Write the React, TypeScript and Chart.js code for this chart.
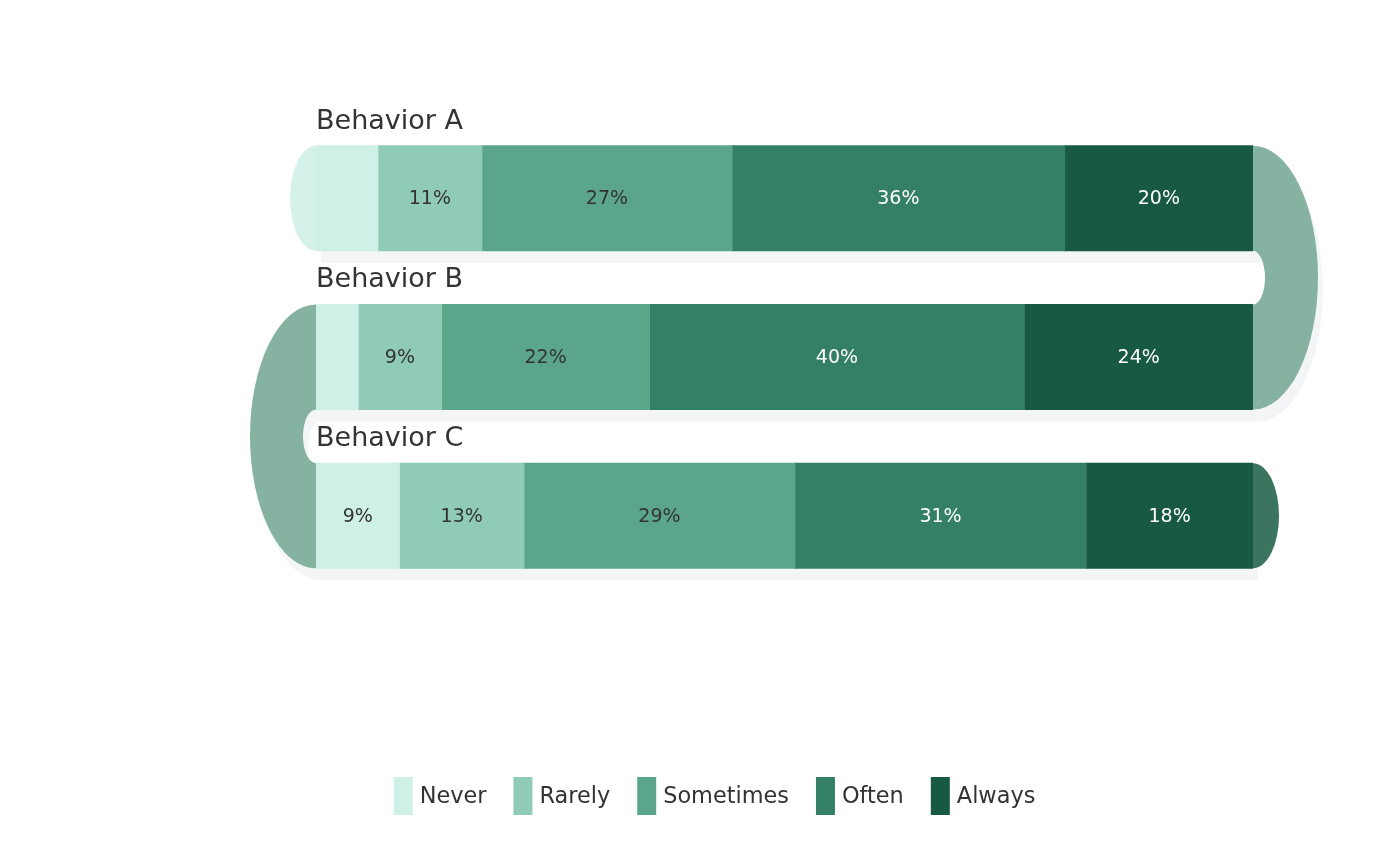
import { useEffect, useRef } from 'react'
import { Chart } from 'chart.js/auto'

const behaviors = ['Behavior A', 'Behavior B', 'Behavior C']
const levels = ['Never', 'Rarely', 'Sometimes', 'Often', 'Always']

// share of answers per behavior, in percent
const never = [6.6, 4.5, 8.9]
const rarely = [11.1, 8.9, 13.3]
const sometimes = [26.7, 22.2, 28.9]
const often = [35.5, 40.0, 31.1]
const always = [20.1, 24.4, 17.8]

const colors = ['#cff0e6', '#8fcbb6', '#5ba68b', '#348067', '#175943']
const textColors = ['#333333', '#333333', '#333333', '#ffffff', '#ffffff']

const FONT = '"DejaVu Sans", "Noto Sans", sans-serif'
const SHADOW = '#f4f5f6'

// draws the snake connectors, caps and shadows behind the bars
const snakePlugin = {
  id: 'snake',
  beforeDatasetsDraw(chart: any) {
    const { ctx, scales } = chart
    const left = scales.x.getPixelForValue(0)
    const right = scales.x.getPixelForValue(100)
    const rows = chart.getDatasetMeta(0).data.map((b: any) => ({
      top: b.y - b.height / 2,
      bottom: b.y + b.height / 2,
      h: b.height,
    }))

    const ring = (i: number, side: 'left' | 'right', dx: number, dy: number) => {
      const a = rows[i]
      const b = rows[i + 1]
      const cy = (a.top + b.bottom) / 2 + dy
      const cx = (side === 'right' ? right : left) + dx
      const outerR = (b.bottom - a.top) / 2
      const innerR = (b.top - a.bottom) / 2
      ctx.beginPath()
      if (side === 'right') {
        ctx.ellipse(cx, cy, 65, outerR, 0, -Math.PI / 2, Math.PI / 2)
        ctx.ellipse(cx, cy, 12, innerR, 0, Math.PI / 2, -Math.PI / 2, true)
      } else {
        ctx.ellipse(cx, cy, 66, outerR, 0, Math.PI / 2, Math.PI * 1.5)
        ctx.ellipse(cx, cy, 13, innerR, 0, Math.PI * 1.5, Math.PI / 2, true)
      }
      ctx.closePath()
      ctx.fill()
    }

    const cap = (i: number, side: 'left' | 'right', color: string) => {
      const r = rows[i]
      const cx = side === 'right' ? right : left
      ctx.beginPath()
      if (side === 'right') ctx.ellipse(cx, r.top + r.h / 2, 26, r.h / 2, 0, -Math.PI / 2, Math.PI / 2)
      else ctx.ellipse(cx, r.top + r.h / 2, 26, r.h / 2, 0, Math.PI / 2, Math.PI * 1.5)
      ctx.closePath()
      ctx.fillStyle = color
      ctx.fill()
    }

    ctx.save()
    // shadows
    ctx.fillStyle = SHADOW
    rows.forEach((r: any) => ctx.fillRect(left + 5, r.top + 12, right - left, r.h))
    for (let i = 0; i < rows.length - 1; i++) ring(i, i % 2 === 0 ? 'right' : 'left', 5, 12)

    // connectors
    ctx.fillStyle = '#86b2a2'
    for (let i = 0; i < rows.length - 1; i++) ring(i, i % 2 === 0 ? 'right' : 'left', 0, 0)

    // start and end caps
    cap(0, 'left', '#d4f2e9')
    const last = rows.length - 1
    cap(last, last % 2 === 0 ? 'right' : 'left', '#3b7560')
    ctx.restore()
  },
  afterDatasetsDraw(chart: any) {
    const { ctx, scales } = chart
    const left = scales.x.getPixelForValue(0)
    ctx.save()
    // percent labels
    ctx.font = `19px ${FONT}`
    ctx.textAlign = 'center'
    ctx.textBaseline = 'middle'
    chart.data.datasets.forEach((ds: any, di: number) => {
      chart.getDatasetMeta(di).data.forEach((bar: any, i: number) => {
        const v = ds.data[i]
        if (v < 8) return
        ctx.fillStyle = textColors[di]
        ctx.fillText(`${Math.round(v)}%`, (bar.x + bar.base) / 2, bar.y + 1)
      })
    })
    // row titles
    ctx.font = `27px ${FONT}`
    ctx.textAlign = 'left'
    ctx.textBaseline = 'alphabetic'
    ctx.fillStyle = '#333333'
    chart.getDatasetMeta(0).data.forEach((bar: any, i: number) => {
      ctx.fillText(chart.data.labels[i], left, bar.y - bar.height / 2 - 17)
    })
    ctx.restore()
  },
  afterDraw(chart: any) {
    const { ctx } = chart
    ctx.save()
    ctx.font = `22.4px ${FONT}`
    ctx.textBaseline = 'middle'
    ctx.textAlign = 'left'
    const items = chart.data.datasets.map((ds: any) => ({
      text: ds.label,
      color: ds.backgroundColor,
      w: 19 + 7 + ctx.measureText(ds.label).width,
    }))
    const gap = 27
    const total = items.reduce((s: number, it: any) => s + it.w, 0) + gap * (items.length - 1)
    let x = 714.5 - total / 2
    const cy = 796
    items.forEach((it: any) => {
      ctx.fillStyle = it.color
      ctx.fillRect(x, cy - 19, 19, 38)
      ctx.fillStyle = '#333333'
      ctx.fillText(it.text, x + 26, cy + 1)
      x += it.w + gap
    })
    ctx.restore()
  },
}

const App = () => {
  const canvasRef = useRef<HTMLCanvasElement>(null)

  useEffect(() => {
    document.body.style.margin = '0'
    const series = [never, rarely, sometimes, often, always]
    const chart = new Chart(canvasRef.current!, {
      type: 'bar',
      data: {
        labels: behaviors,
        datasets: levels.map((label, i) => ({
          label,
          data: series[i],
          backgroundColor: colors[i],
          borderWidth: 0,
          inflateAmount: 0.5,
          barPercentage: 1,
          categoryPercentage: 0.662,
        })),
      },
      options: {
        indexAxis: 'y',
        animation: false,
        responsive: true,
        maintainAspectRatio: false,
        layout: {
          padding: { left: 316, right: 147, top: 119, bottom: 271 },
        },
        scales: {
          x: { stacked: true, min: 0, max: 100, display: false },
          y: { stacked: true, display: false },
        },
        plugins: {
          legend: { display: false },
          tooltip: { enabled: false },
        },
      },
      plugins: [snakePlugin],
    })

    return () => chart.destroy()
  }, [])

  return (
    <div style={{ position: 'relative', width: 1400, height: 866 }}>
      <canvas ref={canvasRef}></canvas>
    </div>
  )
}

export default App
